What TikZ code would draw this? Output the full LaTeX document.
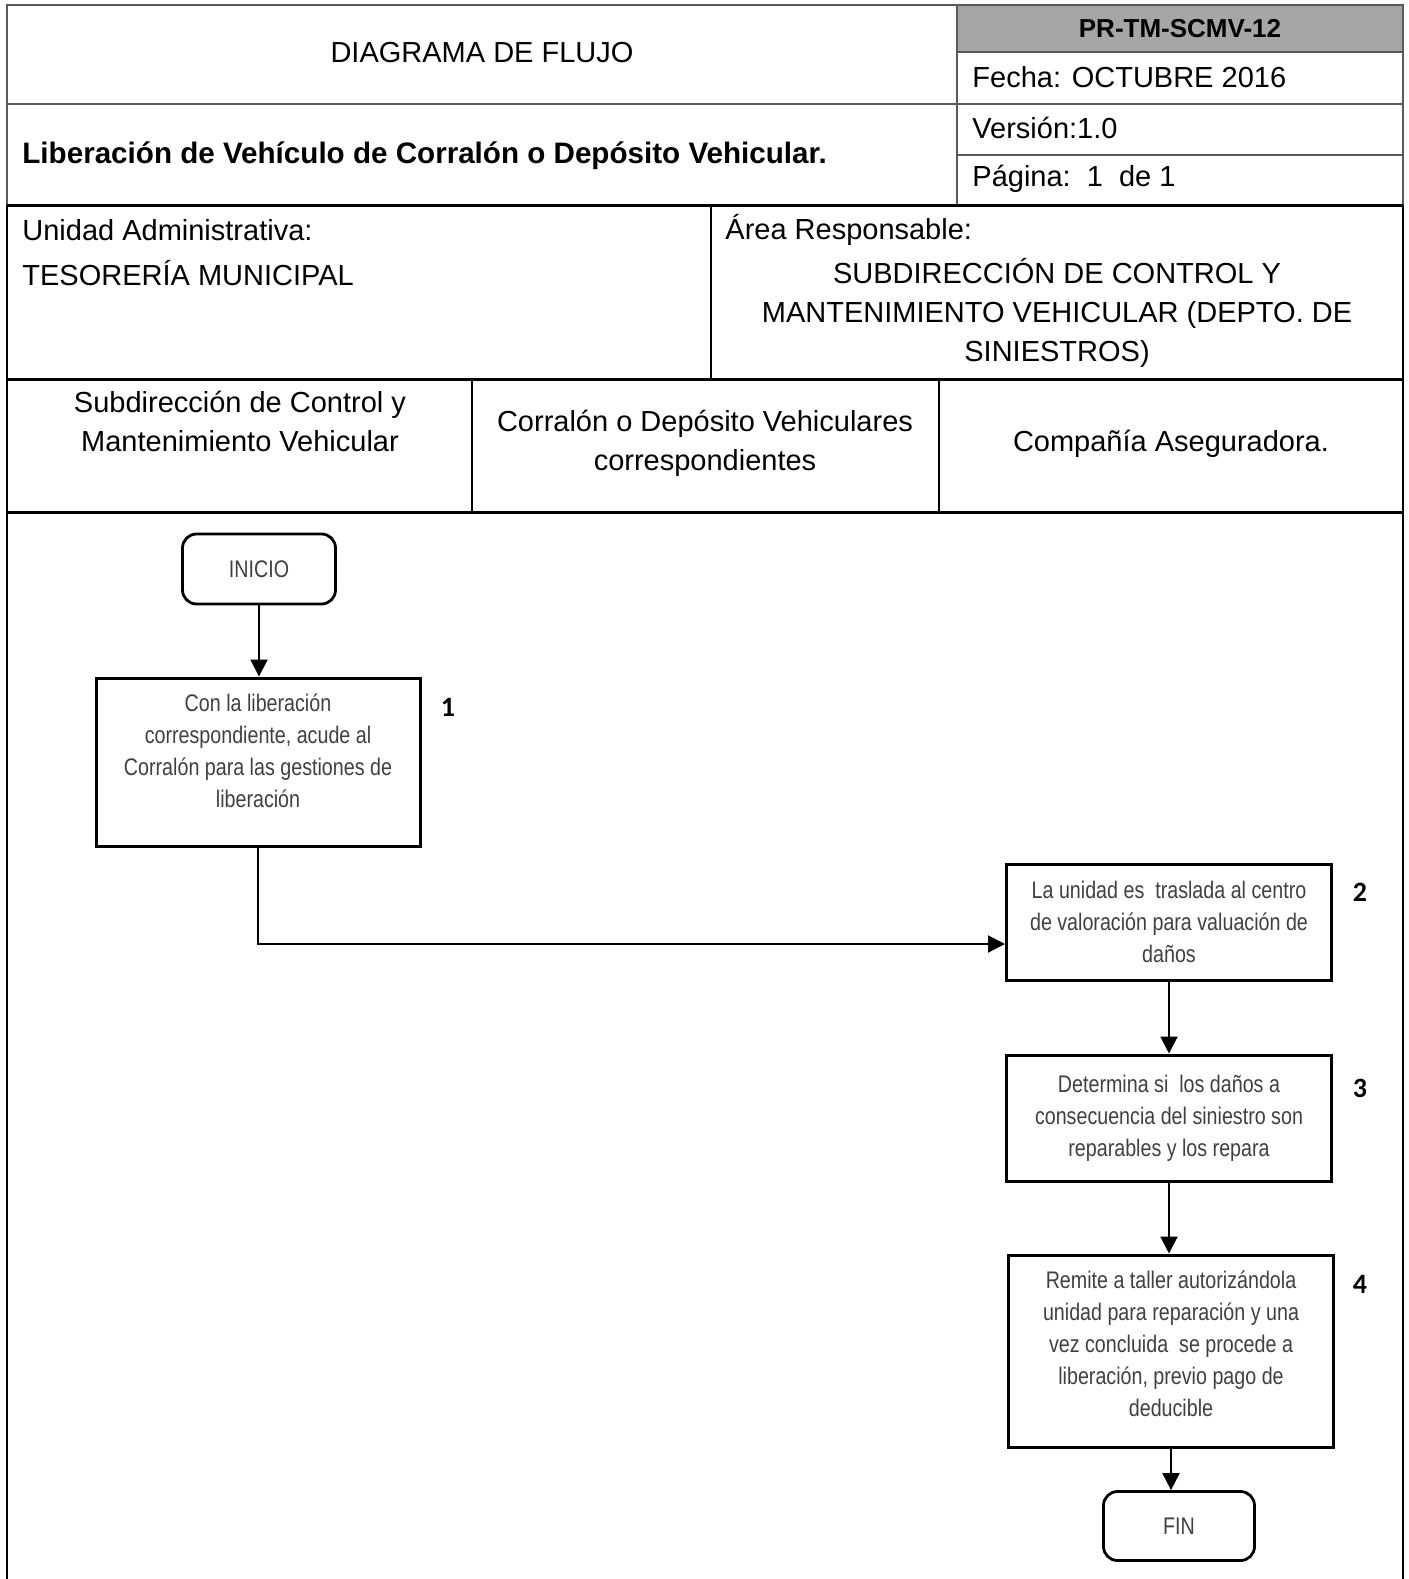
\documentclass[tikz,border=0pt]{standalone}
\usepackage{fontspec}
\setmainfont{Liberation Sans}
\newfontfamily\narrowfont[FakeStretch=0.82]{Liberation Sans}
\newfontfamily\numfont{Carlito}
\usetikzlibrary{arrows.meta,positioning}

\begin{document}
\begin{tikzpicture}[
  x=0.5pt, y=-0.5pt,
  font=\fontsize{14.5}{19.5}\selectfont,
  >={Triangle[length=8.5pt,width=8.5pt]},
  hline/.style={draw=black!65, line width=1pt},
  tline/.style={draw=black, line width=1.5pt},
  bline/.style={draw=black, line width=1.1pt},
  lane/.style={draw=black, line width=0.6pt},
  txt/.style={inner sep=0pt, anchor=west, align=left},
  ctr/.style={inner sep=0pt, align=center},
  proc/.style={draw, line width=1.5pt, align=center, inner sep=0pt,
               font=\narrowfont\fontsize{12}{16}\selectfont, text=black!75},
  term/.style={draw, line width=1.4pt, rounded corners=7pt, inner sep=0pt,
               font=\narrowfont\fontsize{12}{16}\selectfont, text=black!75},
  num/.style={font=\numfont\bfseries\fontsize{14}{16}\selectfont, inner sep=0pt},
  arr/.style={->, line width=1pt}
]
\useasboundingbox (0,0) rectangle (1408,1579);

% ---- header frame ----
\fill[black!35] (957,5) rectangle (1403,52);
\draw[hline] (7,205) |- (1403,5) -- (1403,205);
\draw[hline] (7,104) -- (957,104);
\draw[hline] (957,5) -- (957,205);
\draw[hline] (957,52) -- (1403,52);
\draw[hline] (957,104) -- (1403,104);
\draw[hline] (957,155) -- (1403,155);

% ---- unit / area rows ----
\draw[bline] (7,205) -- (7,1579);
\draw[bline] (1403,205) -- (1403,1579);
\draw[tline] (7,205) -- (1403,205);
\draw[lane] (711,205) -- (711,379);
\draw[tline] (7,379) -- (1403,379);
\draw[lane] (472,379) -- (472,512);
\draw[lane] (939,379) -- (939,512);
\draw[tline] (7,512) -- (1403,512);

% ---- header texts ----
\node[ctr] (hd) at (482,53) {DIAGRAMA DE FLUJO};
\node[txt, font=\bfseries\fontsize{14.8}{19.5}\selectfont] (ttl) at (22,156)
  {Liberación de Vehículo de Corralón o Depósito Vehicular.};
\node[ctr, font=\bfseries\fontsize{13}{16}\selectfont] (code) at (1180,29) {PR-TM-SCMV-12};
\node[txt] (fecha) at (972,77) {Fecha: OCTUBRE 2016};
\node[txt] (ver) at (972,128) {Versión:1.0};
\node[txt] (pag) at (972,179) {Página:\ \ 1\ \ de 1};

\node[txt] (ua) at (22,230) {Unidad Administrativa:};
\node[txt] (tes) at (22,273) {TESORERÍA MUNICIPAL};
\node[txt] (ar) at (725,230) {Área Responsable:};
\node[ctr] (area) at (1057,313)
  {SUBDIRECCIÓN DE CONTROL Y\\MANTENIMIENTO VEHICULAR (DEPTO. DE\\SINIESTROS)};

% ---- lanes ----
\node[ctr] (l1) at (240,421) {Subdirección de Control y\\Mantenimiento Vehicular};
\node[ctr] (l2) at (705,443) {Corralón o Depósito Vehiculares\\correspondientes};
\node[ctr] (l3) at (1171,444) {Compañía Aseguradora.};

% ---- flow ----
\node[term, minimum width=76.5pt, minimum height=35pt] (start) at (259,569) {INICIO};
\node[proc, minimum width=162pt, minimum height=84pt] (s1) at (258,762)
  {Con la liberación\\correspondiente, acude al\\Corralón para las gestiones de\\liberación\\[-5pt]\mbox{}};
\node[num] (n1) at (448,707) {1};

\node[proc, minimum width=162.5pt, minimum height=58pt] (s2) at (1169,922)
  {La unidad es\ \ traslada al centro\\de valoración para valuación de\\daños};
\node[num] (n2) at (1360,892) {2};

\node[proc, minimum width=162.5pt, minimum height=63pt] (s3) at (1169,1118)
  {Determina si\ \ los daños a\\consecuencia del siniestro son\\reparables y los repara};
\node[num] (n3) at (1360,1088) {3};

\node[proc, minimum width=162.5pt, minimum height=96pt] (s4) at (1171,1351)
  {Remite a taller autorizándola\\unidad para reparación y una\\vez concluida\ \ se procede a\\liberación, previo pago de\\deducible\\[-9pt]\mbox{}};
\node[num] (n4) at (1360,1284) {4};

\node[term, minimum width=75.5pt, minimum height=34.5pt] (fin) at (1179,1526) {FIN};

% ---- connectors ----
\draw[arr] (start.south) -- (start.south |- s1.north);
\draw[arr] (s1.south) |- ([yshift=-11pt]s2.west);
\draw[arr] (s2.south) -- (s2.south |- s3.north);
\draw[arr] (s3.south) -- (s3.south |- s4.north);
\draw[arr] (s4.south) -- (s4.south |- fin.north);
\end{tikzpicture}
\end{document}
